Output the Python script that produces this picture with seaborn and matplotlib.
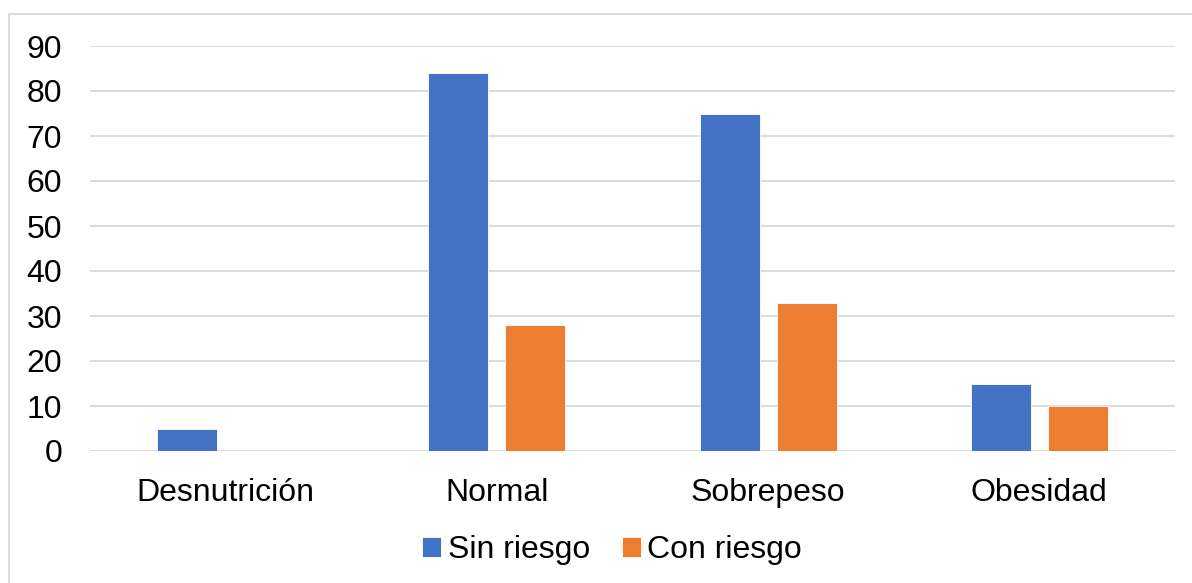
import matplotlib
matplotlib.use("Agg")
import matplotlib.pyplot as plt
from matplotlib.patches import Rectangle
import seaborn as sns
import pandas as pd

categories = ["Desnutrición", "Normal", "Sobrepeso", "Obesidad"]
series_names = ["Sin riesgo", "Con riesgo"]
sin_riesgo = [5, 84, 75, 15]
con_riesgo = [0, 28, 33, 10]
y_ticks = [0, 10, 20, 30, 40, 50, 60, 70, 80, 90]
colors = ["#4472C4", "#ED7D31"]

df = pd.DataFrame({
    "categoria": categories * 2,
    "serie": [series_names[0]] * len(categories) + [series_names[1]] * len(categories),
    "valor": sin_riesgo + con_riesgo,
})

sns.set_theme(style="white")
plt.rcParams["font.family"] = ["Liberation Sans", "DejaVu Sans"]

fig = plt.figure(figsize=(11.92, 5.83), dpi=100)
ax = fig.add_axes([90 / 1192, 1 - 451 / 583, (1175 - 90) / 1192, (451 - 46) / 583])

sns.barplot(data=df, x="categoria", y="valor", hue="serie", hue_order=series_names,
            palette=colors, order=categories, ax=ax, width=0.568, gap=0.22,
            edgecolor="white", linewidth=0.6, legend=True, saturation=1)

ax.set_ylim(0, 90)
ax.set_yticks(y_ticks)
ax.yaxis.grid(True, color="#d9d9d9", linewidth=1.3)
ax.set_axisbelow(True)
for s in ax.spines.values():
    s.set_visible(False)
ax.set_xlabel("")
ax.set_ylabel("")
ax.tick_params(axis="y", labelsize=23, pad=20, length=0)
ax.tick_params(axis="x", labelsize=23, pad=19.5, length=0)
for lbl in ax.get_yticklabels() + ax.get_xticklabels():
    lbl.set_color("#000000")

handles, labels = ax.get_legend_handles_labels()
leg = ax.legend(handles, labels, loc="center", bbox_to_anchor=(612 / 1192, 1 - 550 / 583),
                bbox_transform=fig.transFigure, ncol=2, frameon=False, fontsize=23,
                handlelength=0.6, handleheight=0.6, handletextpad=0.2, columnspacing=1.0)
for t in leg.get_texts():
    t.set_color("#000000")

# outer chart frame
fig.patches.append(Rectangle((9 / 1192, -0.01), 1.02, 1 - 14 / 583 + 0.01,
                             transform=fig.transFigure, fill=False,
                             edgecolor="#d9d9d9", linewidth=1.3))

fig.savefig("out.png", dpi=100, facecolor="white")
